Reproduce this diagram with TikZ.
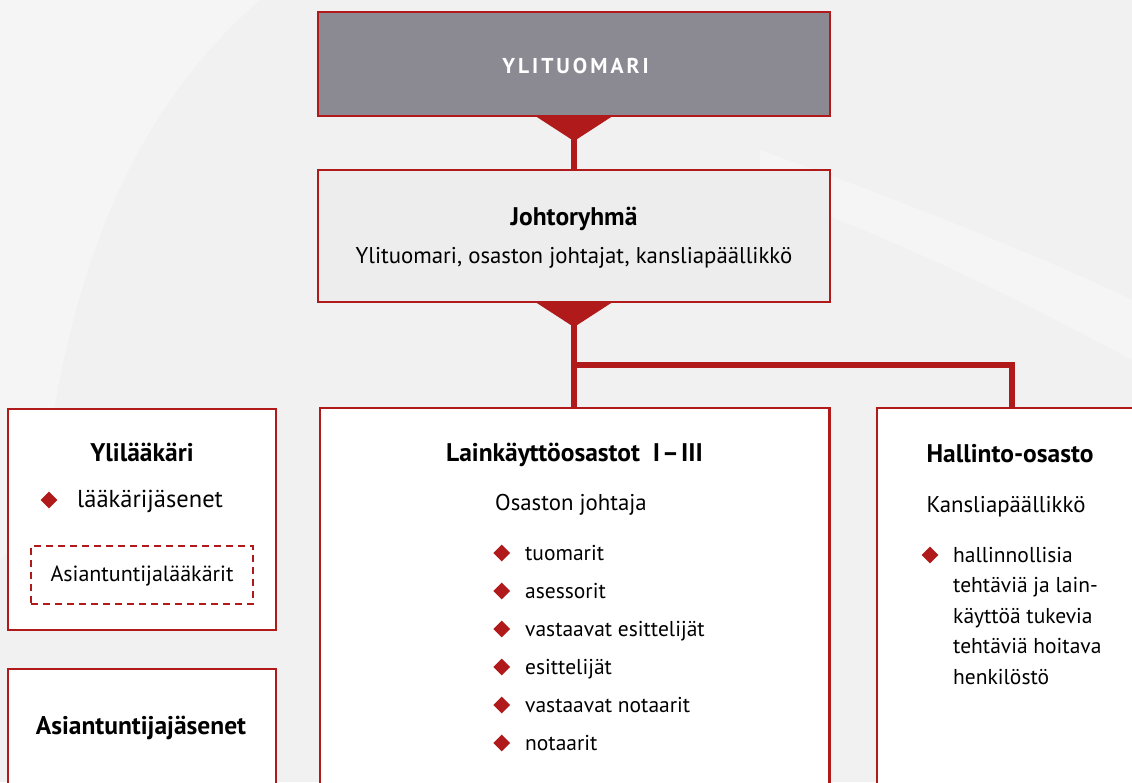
\documentclass[tikz,border=0pt]{standalone}
\usepackage{fontspec}
\setmainfont{PT Sans}
\usetikzlibrary{shapes.geometric,calc}
\definecolor{dred}{HTML}{B01A1A}
\definecolor{topgray}{HTML}{8B8A93}
\definecolor{lgfill}{HTML}{EDEDEE}
\definecolor{bgcol}{HTML}{F1F1F2}
\newcommand{\fssub}{\fontsize{22.8}{27}\selectfont}
\newcommand{\fsreg}{\fontsize{21.5}{26}\selectfont}
\newcommand{\fsasl}{\fontsize{22}{26}\selectfont}
\newcommand{\fsbig}{\fontsize{24.5}{28}\selectfont}
\newcommand{\fsbold}{\fontsize{25.5}{30}\selectfont\bfseries}
\begin{document}
\begin{tikzpicture}[x=1pt,y=-1pt,
  rbox/.style={draw=dred, line width=2.2pt, fill=white, inner sep=0pt, rectangle},
  dbox/.style={draw=dred, line width=1.8pt, dash pattern=on 7pt off 5pt, inner sep=0pt, rectangle},
  stem/.style={draw=dred, line width=5.5pt},
  diam/.style={shape=diamond, fill=dred, inner sep=0pt, minimum width=17pt, minimum height=17pt},
  lbl/.style={inner sep=0pt, text=black},
]
\useasboundingbox (0,0) rectangle (1132,782);
\clip (0,0) rectangle (1132,782);
\fill[bgcol] (0,0) rectangle (1132,782);
% faint background swirls
\fill[white, opacity=0.35] (0,0) -- (260,0) .. controls (120,120) and (60,300) .. (40,520) -- (0,560) -- cycle;
\fill[white, opacity=0.3] (760,150) .. controls (900,200) and (1050,260) .. (1132,300) -- (1132,360) .. controls (1020,300) and (900,240) .. (760,190) -- cycle;

% boxes
\node[rbox, fill=topgray, minimum width=512pt, minimum height=104pt] (top) at (574,64) {};
\node[rbox, fill=lgfill, minimum width=512pt, minimum height=132pt] (joh) at (574,236) {};
\node[rbox, minimum width=509.5pt, minimum height=422pt] (mid) at (574.75,619) {};
\node[rbox, minimum width=270pt, minimum height=422pt] (right) at (1012,619) {};
\node[rbox, minimum width=268pt, minimum height=221pt] (ylil) at (142,519.5) {};
\node[rbox, minimum width=268pt, minimum height=161pt] (asj) at (142,749.5) {};
\node[dbox, minimum width=222pt, minimum height=58pt] (asl) at (142,575) {};

% connectors
\fill[dred] ($(top.south)+(-37,0)$) -- ($(top.south)+(37,0)$) -- ($(top.south)+(0,24)$) -- cycle;
\draw[stem] (top.south) -- (joh.north);
\fill[dred] ($(joh.south)+(-37,0)$) -- ($(joh.south)+(37,0)$) -- ($(joh.south)+(0,24)$) -- cycle;
\draw[stem] (joh.south) -- (joh.south |- mid.north);
\coordinate (br) at (574,365);
\draw[stem] ($(br)+(-2.75,0)$) -| (right.north);

% texts
\node[lbl, anchor=base, text=white, font=\fontsize{21.5}{25}\selectfont\bfseries\addfontfeatures{LetterSpace=14}] (t1) at (575.5,73.5) {YLITUOMARI};
\node[lbl, anchor=base, font=\fsbold] (t2) at (574,225) {Johtoryhmä};
\node[lbl, anchor=base, font=\fssub] (t3) at (574,263) {Ylituomari, osaston johtajat, kansliapäällikkö};

\node[lbl, anchor=base, font=\fsbold] (t4) at (142,461) {Ylilääkäri};
\node[diam] (d0) at (49,500) {};
\node[lbl, anchor=base west, font=\fsbig] (t5) at (77,507) {lääkärijäsenet};
\node[lbl, anchor=base, font=\fsasl] (t6) at (142,581) {Asiantuntijalääkärit};
\node[lbl, anchor=base, font=\fsbold] (t7) at (141,734) {Asiantuntijajäsenet};

\node[lbl, anchor=base, font=\fsbold] (t8) at (574.5,461) {Lainkäyttöosastot\ \ I\kern2pt–\kern2pt III};
\node[lbl, anchor=base west, font=\fssub] (t9) at (495,510.7) {Osaston johtaja};
\foreach \txt [count=\i from 0] in {tuomarit, asessorit, vastaavat esittelijät, esittelijät, vastaavat notaarit, notaarit}{
  \node[diam] (md\i) at (501.7,553+38*\i) {};
  \node[lbl, anchor=base west, font=\fsreg] (mt\i) at (525,560.5+38*\i) {\txt};
}

\node[lbl, anchor=base, font=\fsbold] (t10) at (1010,462) {Hallinto-osasto};
\node[lbl, anchor=base, font=\fssub] (t11) at (1006,512) {Kansliapäällikkö};
\node[diam] (rd) at (930,555) {};
\foreach \txt [count=\i from 0] in {hallinnollisia, tehtäviä ja lain-, käyttöä tukevia, tehtäviä hoitava, henkilöstö}{
  \node[lbl, anchor=base west, font=\fsreg] (rt\i) at (953,562+30.5*\i) {\txt};
}
\end{tikzpicture}
\end{document}
